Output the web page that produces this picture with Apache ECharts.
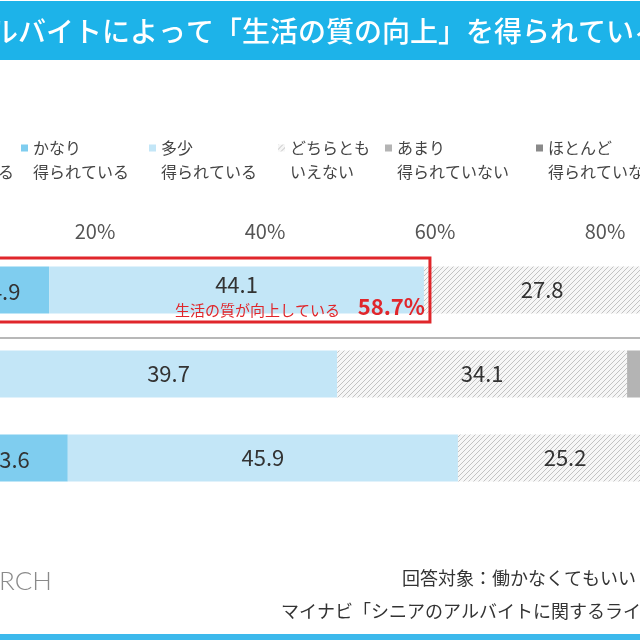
<!DOCTYPE html>
<html>
<head>
<meta charset="utf-8">
<script src="https://cdn.jsdelivr.net/npm/echarts@6/dist/echarts.min.js"></script>
<style>
  html, body { margin: 0; padding: 0; background: #fff; }
  #chart { width: 640px; height: 640px; }
</style>
</head>
<body>
<div id="chart"></div>
<script>
// 行（画面外の左側にラベルがある）
const categories = ['全体', '男性', '女性'];
// 回答の区分（凡例）
const answers = [
  'かなり\n得られている',
  '多少\n得られている',
  'どちらとも\nいえない',
  'あまり\n得られていない',
  'ほとんど\n得られていない'
];
// 各区分の割合（%）
const kanari = [14.6, 8.8, 16.8];
const tashou = [44.1, 39.7, 45.9];
const dochira = [27.8, 34.1, 25.2];
const amari = [8.9, 11.6, 8.0];
const hotondo = [4.6, 5.8, 4.1];
// 「かなり」のラベルは図の表記のまま
const kanariLabels = ['14.9', '8.8', '13.6'];
const xTicks = [0, 20, 40, 60, 80, 100];

const FONT = 'Noto Sans CJK JP';

// 斜線のパターン
const hatch = document.createElement('canvas');
hatch.width = 5;
hatch.height = 5;
const hctx = hatch.getContext('2d');
hctx.fillStyle = '#f6f6f6';
hctx.fillRect(0, 0, 5, 5);
hctx.strokeStyle = '#c2c2c2';
hctx.lineWidth = 1;
hctx.beginPath();
hctx.moveTo(-1, 6); hctx.lineTo(6, -1);
hctx.moveTo(-1, 1); hctx.lineTo(1, -1);
hctx.moveTo(4, 6); hctx.lineTo(6, 4);
hctx.stroke();

const colors = ['#7fcdef', '#c3e6f7', { image: hatch, repeat: 'repeat' }, '#b4b4b4', '#8a8a8a'];
const values = [kanari, tashou, dochira, amari, hotondo];

// 凡例（項目ごとに位置が違うので別々に置く）
const legendLeft = [21, 149, 278, 385, 536];
const legends = answers.map((name, i) => ({
  data: [name],
  left: legendLeft[i],
  top: 136,
  padding: 0,
  orient: 'horizontal',
  selectedMode: false,
  itemWidth: 7,
  itemHeight: 31,
  icon: 'path://M0,0L7,0L7,7L0,7Z M0,30.9L0.1,30.9L0.1,31L0,31Z',
  textStyle: { fontFamily: FONT, fontSize: 16, lineHeight: 24, color: '#444' }
}));

const series = values.map((arr, i) => ({
  name: answers[i],
  type: 'bar',
  stack: 'total',
  barWidth: 47,
  itemStyle: { color: colors[i] },
  label: {
    show: i < 3,
    position: 'inside',
    fontFamily: FONT,
    fontSize: 22,
    color: '#333',
    formatter: p => (i === 0 ? kanariLabels[p.dataIndex] : String(p.value))
  },
  data: arr.map((v, j) => {
    if (i === 1 && j === 0) return { value: v, label: { offset: [0, -5] } };
    if (i === 0) return { value: v, label: { offset: [12, 2] } };
    return v;
  })
}));

const chart = echarts.init(document.getElementById('chart'));
chart.setOption({
  animation: false,
  backgroundColor: '#fff',
  legend: legends,
  grid: { left: -75, right: -135, top: 248, bottom: 140, containLabel: false, outerBoundsMode: 'none' },
  xAxis: {
    type: 'value',
    position: 'top',
    min: xTicks[0],
    max: xTicks[xTicks.length - 1],
    interval: 20,
    axisLine: { show: false },
    axisTick: { show: false },
    splitLine: { show: false },
    axisLabel: {
      margin: 7,
      fontFamily: FONT,
      fontSize: 20,
      color: '#555',
      formatter: '{value}%'
    }
  },
  yAxis: {
    type: 'category',
    inverse: true,
    data: categories,
    axisLine: { show: false },
    axisTick: { show: false },
    axisLabel: { show: false }
  },
  series
});

// 赤枠と注記（最初の行、かなり＋多少）
const upper = kanari[0] + tashou[0];
const [bx, by] = chart.convertToPixel({ gridIndex: 0 }, [upper, categories[0]]);
const [, by2] = chart.convertToPixel({ gridIndex: 0 }, [0, categories[1]]);

chart.setOption({
  graphic: [
    { type: 'rect', shape: { x: 0, y: 1, width: 640, height: 59 }, style: { fill: '#1db3e9' }, z: 10 },
    {
      type: 'text', x: -38, y: 31, z: 11,
      style: {
        text: 'アルバイトによって「生活の質の向上」を得られているか',
        fontFamily: FONT, fontSize: 28, fontWeight: 500, fill: '#fff', verticalAlign: 'middle'
      }
    },
    {
      type: 'text', x: 14, y: 172,
      style: { text: 'ている', fontFamily: FONT, fontSize: 16, fill: '#444', align: 'right', verticalAlign: 'middle' }
    },
    {
      type: 'rect', z: 20,
      shape: { x: -10, y: by - 32, width: bx + 16, height: 64 },
      style: { fill: 'none', stroke: '#e0262b', lineWidth: 3 }
    },
    {
      type: 'text', x: bx + 1, y: by + 17, z: 21,
      style: { text: upper.toFixed(1) + '%', fontFamily: FONT, fontSize: 22, fontWeight: 'bold', fill: '#e0262b', align: 'right', verticalAlign: 'middle' }
    },
    {
      type: 'text', x: bx - 84, y: by + 20, z: 21,
      style: { text: '生活の質が向上している', fontFamily: FONT, fontSize: 15, fill: '#e0262b', align: 'right', verticalAlign: 'middle' }
    },
    {
      type: 'rect', z: 5,
      shape: { x: 0, y: by2 - 37, width: 640, height: 2 },
      style: { fill: '#b8b8b8' }
    },
    {
      type: 'text', x: -18, y: 582,
      style: { text: 'ARCH', fontFamily: 'Lato', fontSize: 26, fontWeight: 300, fill: '#8a8a8a', verticalAlign: 'middle' }
    },
    {
      type: 'text', x: 402, y: 578,
      style: { text: '回答対象：働かなくてもいい', fontFamily: FONT, fontSize: 18, fill: '#333', verticalAlign: 'middle' }
    },
    {
      type: 'text', x: 281, y: 611,
      style: { text: 'マイナビ「シニアのアルバイトに関するライ', fontFamily: FONT, fontSize: 18, fill: '#333', verticalAlign: 'middle' }
    },
    { type: 'rect', shape: { x: 0, y: 634, width: 640, height: 6 }, style: { fill: '#3cb9ec' } }
  ]
});
</script>
</body>
</html>
